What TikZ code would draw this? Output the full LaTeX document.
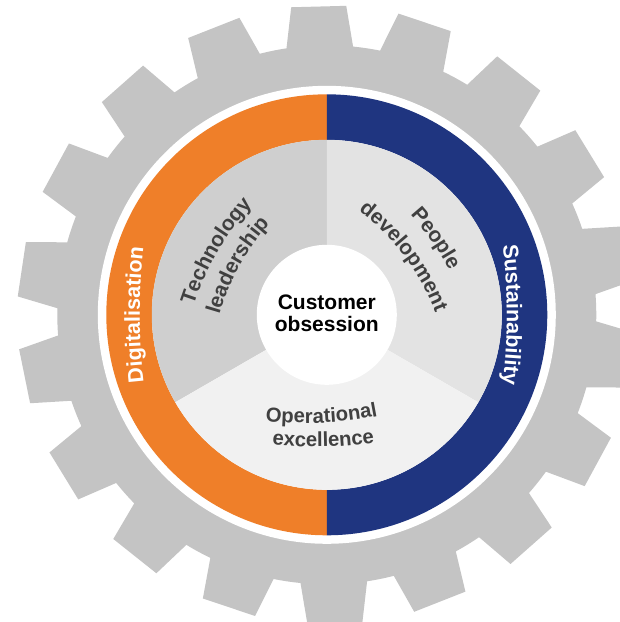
\documentclass[tikz,border=0pt]{standalone}
\usepackage{fontspec}
\setmainfont{Liberation Sans}
\usepackage{tikz}
\usepackage{xcolor}
\usetikzlibrary{decorations.text}

\definecolor{gearGray}{HTML}{C4C4C4}
\definecolor{digiOrange}{HTML}{EF7F29}
\definecolor{sustBlue}{HTML}{1F3580}
\definecolor{techGray}{HTML}{CFCFCF}
\definecolor{peopleGray}{HTML}{E3E3E3}
\definecolor{opsGray}{HTML}{F1F1F1}
\definecolor{labelGray}{HTML}{404040}

\newcommand{\ringfont}{\fontsize{21.5}{24}\selectfont\bfseries\color{white}}
\newcommand{\sectorfont}{\fontsize{21}{24}\selectfont\bfseries\color{labelGray}}
\newcommand{\opsfont}{\fontsize{20.3}{24}\selectfont\bfseries\color{labelGray}}

\newcommand{\bentlabel}[7][0pt]{%
  \path[decorate,decoration={text along path,text align=center,text={#7}}]
    ([shift={(#2:#3-#4)},xshift=#1]#5:#4) arc[start angle=#5,end angle=#6,radius=#4];}

\tikzset{
  coretext/.style={align=center,inner sep=0pt,font=\fontsize{21}{22}\selectfont\bfseries}
}

\begin{document}
\begin{tikzpicture}[x=1pt,y=1pt]
\clip (-326.8,-307.2) rectangle (293.2,314.8);
\fill[white] (-326.8,-307.2) rectangle (293.2,314.8);

\fill[gearGray] (4.4:269.5)
  \foreach \a in {11.5,31.5,...,351.5} {
    -- (\a-7.1:269.5) -- (\a-5.1:309.6) -- (\a+5.1:309.6) -- (\a+7.1:269.5)
    arc[start angle=\a+7.1,end angle=\a+12.9,radius=269.5]
  } -- cycle;
\fill[white] (0,0) circle[radius=229];

\fill[digiOrange] (90:220.5) arc[start angle=90,end angle=270,radius=220.5]
  -- (270:175) arc[start angle=270,end angle=90,radius=175] -- cycle;
\fill[sustBlue] (-90:220.5) arc[start angle=-90,end angle=90,radius=220.5]
  -- (90:175) arc[start angle=90,end angle=-90,radius=175] -- cycle;

\fill[techGray] (0,0) -- (90:175) arc[start angle=90,end angle=210,radius=175] -- cycle;
\fill[peopleGray] (0,0) -- (-30:175) arc[start angle=-30,end angle=90,radius=175] -- cycle;
\fill[opsGray] (0,0) -- (210:175) arc[start angle=210,end angle=330,radius=175] -- cycle;
\fill[white] (0,0) circle[radius=70];

\node[coretext] (core) at (0,2) {Customer\\obsession};

\bentlabel{180}{187}{600}{192}{168}{|\ringfont|Digitalisation}
\bentlabel{0}{180}{600}{12}{-12}{|\ringfont|Sustainability}

\bentlabel{150}{126}{280}{172}{128}{|\sectorfont|Technology}
\bentlabel{151}{100}{230}{177}{125}{|\sectorfont|leadership}
\bentlabel{35}{128}{280}{57}{13}{|\sectorfont|People}
\bentlabel{37}{97}{230}{67}{7}{|\sectorfont|development}
\bentlabel[-9.7pt]{272.5}{108}{380}{254.5}{290.5}{|\opsfont|Operational}
\bentlabel[-5.8pt]{271}{132}{380}{253}{289}{|\opsfont|excellence}
\end{tikzpicture}
\end{document}
